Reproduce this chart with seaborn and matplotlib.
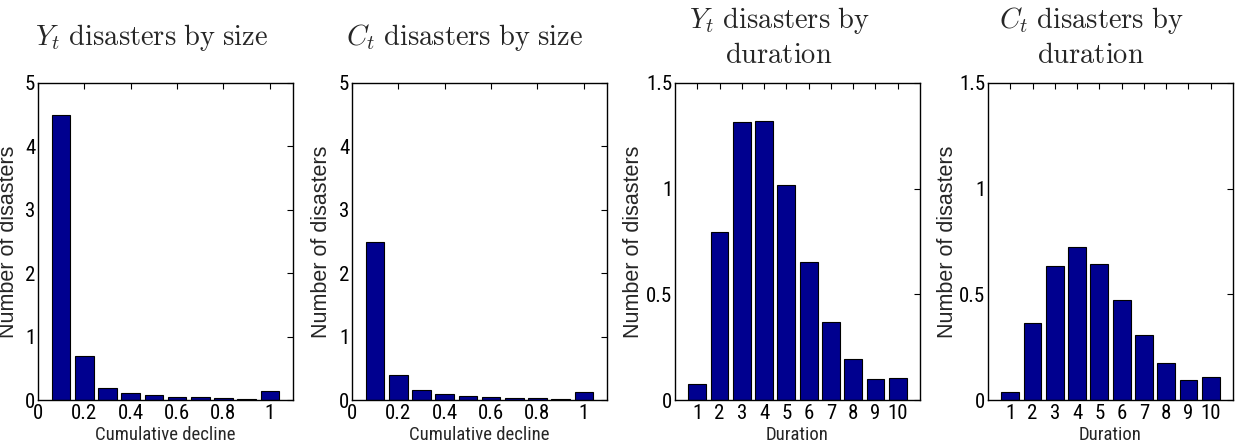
import matplotlib
matplotlib.use("Agg")
import matplotlib.pyplot as plt
import seaborn as sns
import pandas as pd

# ---- data ----
size_bins = [0.1, 0.2, 0.3, 0.4, 0.5, 0.6, 0.7, 0.8, 0.9, 1.0]
y_by_size = [4.50, 0.70, 0.195, 0.105, 0.074, 0.053, 0.042, 0.032, 0.021, 0.142]
c_by_size = [2.50, 0.40, 0.153, 0.095, 0.068, 0.053, 0.037, 0.026, 0.021, 0.132]

durations = [1, 2, 3, 4, 5, 6, 7, 8, 9, 10]
y_by_dur = [0.074, 0.793, 1.314, 1.320, 1.015, 0.654, 0.370, 0.194, 0.100, 0.106]
c_by_dur = [0.036, 0.362, 0.635, 0.726, 0.644, 0.474, 0.308, 0.174, 0.095, 0.109]

size_ticks = [0, 0.2, 0.4, 0.6, 0.8, 1.0]
size_ticklabels = ["0", "0.2", "0.4", "0.6", "0.8", "1"]
size_yticks = [0, 1, 2, 3, 4, 5]
size_yticklabels = ["0", "1", "2", "3", "4", "5"]
dur_yticks = [0, 0.5, 1.0, 1.5]
dur_yticklabels = ["0", "0.5", "1", "1.5"]

title_lines = [[r"$Y_t\ \mathrm{disasters\ by\ size}$"],
               [r"$C_t\ \mathrm{disasters\ by\ size}$"],
               [r"$Y_t\ \mathrm{disasters\ by}$", r"$\mathrm{duration}$"],
               [r"$C_t\ \mathrm{disasters\ by}$", r"$\mathrm{duration}$"]]

# ---- style ----
sns.set_theme(style="white")
cond = ["Roboto Condensed", "Liberation Sans", "DejaVu Sans"]
plt.rcParams["font.family"] = cond
plt.rcParams["mathtext.fontset"] = "cm"
plt.rcParams["axes.edgecolor"] = "black"
plt.rcParams["axes.linewidth"] = 1.0

W, H = 1235, 446
fig = plt.figure(figsize=(W / 100, H / 100), dpi=100)

bar_color = "#00008F"

# axes pixel boxes: left, right, top, bottom
boxes = [(38, 293, 83, 400), (352, 607, 83, 400),
         (675, 920, 83, 400), (988, 1233, 83, 400)]
title_x = [152, 465, 779, 1091]
ylabel_off = [-19, -20, -31, -30]

panels = [
    (size_bins, y_by_size, "size"),
    (size_bins, c_by_size, "size"),
    (durations, y_by_dur, "dur"),
    (durations, c_by_dur, "dur"),
]

for i, ((xv, yv, kind), (l, r, t, b)) in enumerate(zip(panels, boxes)):
    ax = fig.add_axes([l / W, 1 - b / H, (r - l) / W, (b - t) / H])
    df = pd.DataFrame({"x": xv, "y": yv})
    sns.barplot(data=df, x="x", y="y", native_scale=True, ax=ax,
                color=bar_color, saturation=1, edgecolor="black",
                linewidth=0.8, errorbar=None, width=0.8)
    if kind == "size":
        ax.set_xlim(0, 1.1)
        ax.set_ylim(0, 5)
        ax.set_xticks(size_ticks)
        ax.set_xticklabels(size_ticklabels)
        ax.set_yticks(size_yticks)
        ax.set_yticklabels(size_yticklabels)
        ax.set_xlabel("Cumulative decline", fontsize=13.5, labelpad=2)
    else:
        ax.set_xlim(0, 11)
        ax.set_ylim(0, 1.5)
        ax.set_xticks(durations)
        ax.set_xticklabels([str(d) for d in durations])
        ax.set_yticks(dur_yticks)
        ax.set_yticklabels(dur_yticklabels)
        ax.set_xlabel("Duration", fontsize=13.5, labelpad=2)
    ax.set_ylabel("Number of disasters", fontsize=15.5,
                  family=["Liberation Sans", "DejaVu Sans"])
    ax.yaxis.set_label_coords(ylabel_off[i] / (r - l), 0.5)
    ax.tick_params(axis="both", which="both", direction="in", length=4,
                   width=0.8, top=True, right=True, labelsize=15,
                   pad=3, colors="black")
    ax.tick_params(axis="y", pad=2)
    for s in ax.spines.values():
        s.set_visible(True)
        s.set_color("black")
        s.set_linewidth(1.0)
    baselines = [45] if kind == "size" else [28, 63]
    for line, by in zip(title_lines[i], baselines):
        fig.text(title_x[i] / W, 1 - by / H, line, ha="center",
                 va="baseline", fontsize=20.5)

fig.savefig("out.png", dpi=100)
